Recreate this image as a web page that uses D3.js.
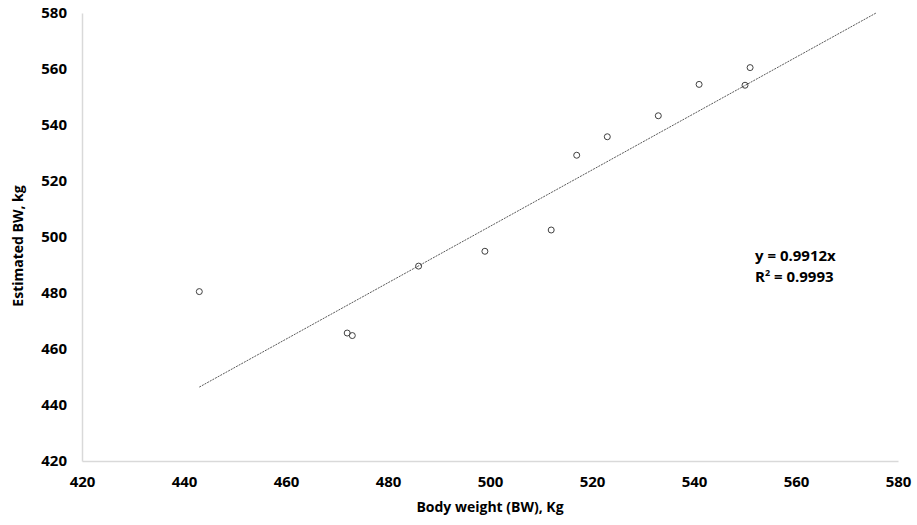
<!DOCTYPE html>
<html>
<head>
<meta charset="utf-8">
<script src="https://cdn.jsdelivr.net/npm/d3@7"></script>
<style>
  body { margin: 0; background: #fff; }
  svg text { font-family: "Open Sans", "Liberation Sans", sans-serif; font-weight: bold; fill: #000; }
</style>
</head>
<body>
<svg width="917" height="525"></svg>
<script>
// measured body weight vs estimated body weight
const bodyWeight = [443, 472, 473, 486, 499, 512, 517, 523, 533, 541, 550, 551]
const estimatedBW = [480.5, 465.7, 464.8, 489.6, 494.9, 502.5, 529.2, 535.8, 543.3, 554.5, 554.2, 560.5]

// trend line as drawn (start / end)
const trendX = [443, 575.7]
const trendY = [446.4, 580]

const xTicks = [420, 440, 460, 480, 500, 520, 540, 560, 580]
const yTicks = [420, 440, 460, 480, 500, 520, 540, 560, 580]

const svg = d3.select("svg")

const x = d3.scaleLinear().domain([420, 580]).range([82, 898])
const y = d3.scaleLinear().domain([420, 580]).range([461, 13])

// axes, no tick marks, light grey lines
const xAxis = svg.append("g")
	.attr("transform", "translate(0,461)")
	.call(d3.axisBottom(x).tickValues(xTicks).tickSize(0).tickPadding(15))
xAxis.select(".domain").attr("stroke", "#d9d9d9").attr("stroke-width", 1.5)
xAxis.selectAll("text").style("font-size", "15px")

const yAxis = svg.append("g")
	.attr("transform", "translate(82,0)")
	.call(d3.axisLeft(y).tickValues(yTicks).tickSize(0).tickPadding(15))
yAxis.select(".domain").attr("stroke", "#d9d9d9").attr("stroke-width", 1.5)
yAxis.selectAll("text").style("font-size", "15px")

// trend line
svg.append("line")
	.attr("x1", x(trendX[0])).attr("y1", y(trendY[0]))
	.attr("x2", x(trendX[1])).attr("y2", y(trendY[1]))
	.attr("stroke", "#595959")
	.attr("stroke-width", 1)
	.attr("stroke-dasharray", "2,1")

// points
svg.append("g")
	.selectAll("circle")
	.data(bodyWeight)
	.enter()
	.append("circle")
	.attr("cx", d => x(d))
	.attr("cy", (d, i) => y(estimatedBW[i]))
	.attr("r", 3)
	.attr("fill", "none")
	.attr("stroke", "#404040")
	.attr("stroke-width", 1)

// equation label
const eq = svg.append("text")
	.attr("x", 755)
	.attr("y", 261)
	.style("font-size", "15px")
eq.append("tspan").text("y = 0.9912x")
const r2 = svg.append("text")
	.attr("x", 755)
	.attr("y", 282)
	.style("font-size", "15px")
r2.append("tspan").text("R")
r2.append("tspan").attr("dy", -6).style("font-size", "9px").text("2")
r2.append("tspan").attr("dy", 6).text(" = 0.9993")

// axis titles
svg.append("text")
	.attr("x", 490)
	.attr("y", 512)
	.attr("text-anchor", "middle")
	.style("font-size", "14px")
	.text("Body weight (BW), Kg")

svg.append("text")
	.attr("transform", "translate(23,246) rotate(-90)")
	.attr("text-anchor", "middle")
	.style("font-size", "14px")
	.text("Estimated BW, kg")
</script>
</body>
</html>
